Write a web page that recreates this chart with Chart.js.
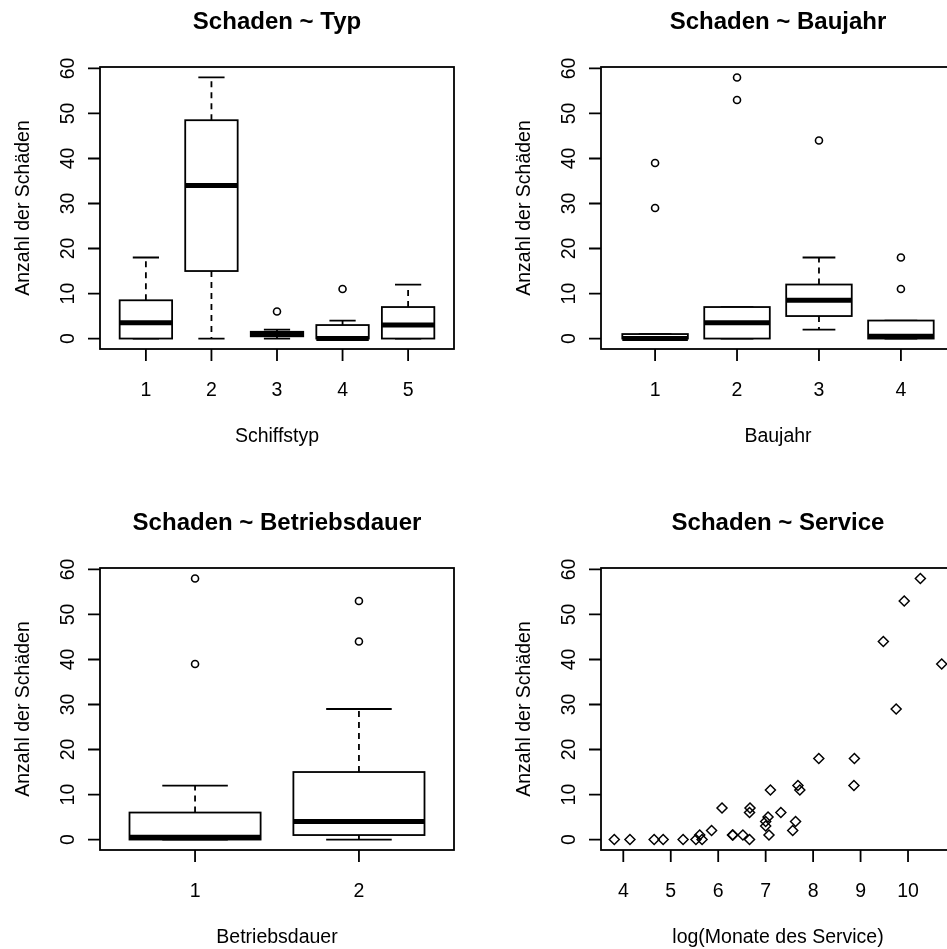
<!DOCTYPE html>
<html lang="de">
<head>
<meta charset="UTF-8">
<title>Schiffsschäden</title>
<script src="https://cdn.jsdelivr.net/npm/chart.js@4"></script>
<style>
  html, body { margin: 0; background: #fff; overflow: hidden; }
  #sheet { position: relative; width: 1002px; height: 1002px; }
  #sheet canvas { position: absolute; }
</style>
</head>
<body>
<div id="sheet">
  <canvas id="typ" width="501" height="500" style="left:0;top:0"></canvas>
  <canvas id="baujahr" width="501" height="500" style="left:501px;top:0"></canvas>
  <canvas id="dauer" width="501" height="500" style="left:0;top:501px"></canvas>
  <canvas id="service" width="501" height="500" style="left:501px;top:501px"></canvas>
</div>
<script>
// Schaden ~ Typ: boxplot statistics per ship type
const typCats = ['1', '2', '3', '4', '5'];
const typLow  = [0, 0, 0, 0, 0];
const typQ1   = [0, 15, 0.5, 0, 0];
const typMed  = [3.5, 34, 1, 0, 3];
const typQ3   = [8.5, 48.5, 1.5, 3, 7];
const typHigh = [18, 58, 2, 4, 12];
const typOut  = [[], [], [6], [11], []];

// Schaden ~ Baujahr
const bauCats = ['1', '2', '3', '4'];
const bauLow  = [0, 0, 2, 0];
const bauQ1   = [0, 0, 5, 0];
const bauMed  = [0, 3.5, 8.5, 0.5];
const bauQ3   = [1, 7, 12, 4];
const bauHigh = [1, 7, 18, 4];
const bauOut  = [[29, 39], [53, 58], [44], [11, 18]];

// Schaden ~ Betriebsdauer
const dauerCats = ['1', '2'];
const dauerLow  = [0, 0];
const dauerQ1   = [0, 1];
const dauerMed  = [0.5, 4];
const dauerQ3   = [6, 15];
const dauerHigh = [12, 29];
const dauerOut  = [[39, 58], [44, 53]];

// Schaden ~ Service: log(Monate des Service) vs. Anzahl
const logService = [4.84, 4.14, 7.00, 7.00, 7.32, 8.12, 7.72,
                    10.71, 9.75, 10.26, 9.92, 8.86, 9.48, 8.87,
                    7.07, 6.31, 6.66, 6.52, 6.66, 7.57, 5.61,
                    5.53, 4.65, 5.66, 5.26, 5.86, 7.10, 7.63,
                    3.81, 6.67, 6.08, 7.05, 7.68, 6.30];
const schaeden   = [0, 0, 3, 4, 6, 18, 11,
                    39, 29, 58, 53, 12, 44, 18,
                    1, 1, 0, 1, 6, 2, 1,
                    0, 0, 0, 0, 2, 11, 4,
                    0, 7, 7, 5, 12, 1];
const serviceTicks = [4, 5, 6, 7, 8, 9, 10];
const serviceRange = [3.53, 10.99];

const yTicks = [0, 10, 20, 30, 40, 50, 60];
const yRange = [-2.32, 60.32];
const yTitle = 'Anzahl der Schäden';

const INK = '#000';
const FONT = '"Liberation Sans", Arial, sans-serif';
const PAD = { left: 100, top: 67, right: 47, bottom: 151 };
const LW = 1.8;

// frame, outward ticks, rotated y labels and titles in the style of base R graphics
function rDecor(title, xLabel, tickText) {
  return {
    id: 'rDecor',
    afterDraw(chart) {
      const { ctx, chartArea: a, scales: { x, y } } = chart;
      const cx = (a.left + a.right) / 2;
      ctx.save();
      ctx.strokeStyle = INK;
      ctx.fillStyle = INK;
      ctx.lineWidth = LW;
      ctx.strokeRect(a.left, a.top, a.right - a.left, a.bottom - a.top);
      ctx.beginPath();
      y.ticks.forEach(t => {
        const py = y.getPixelForValue(t.value);
        ctx.moveTo(a.left - 12, py);
        ctx.lineTo(a.left, py);
      });
      x.ticks.forEach(t => {
        const px = x.getPixelForValue(t.value);
        ctx.moveTo(px, a.bottom);
        ctx.lineTo(px, a.bottom + 12);
      });
      ctx.stroke();

      ctx.font = '19.5px ' + FONT;
      ctx.textAlign = 'center';
      ctx.textBaseline = 'alphabetic';
      x.ticks.forEach(t => ctx.fillText(tickText(t.value), x.getPixelForValue(t.value), a.bottom + 47));
      ctx.fillText(xLabel, cx, a.bottom + 93);
      y.ticks.forEach(t => {
        ctx.save();
        ctx.translate(a.left - 26, y.getPixelForValue(t.value));
        ctx.rotate(-Math.PI / 2);
        ctx.fillText(String(t.value), 0, 0);
        ctx.restore();
      });
      ctx.save();
      ctx.translate(29, (a.top + a.bottom) / 2);
      ctx.rotate(-Math.PI / 2);
      ctx.fillText(yTitle, 0, 0);
      ctx.restore();

      ctx.font = 'bold 24px ' + FONT;
      ctx.fillText(title, cx, 29);
      ctx.restore();
    }
  };
}

// boxes, dashed whiskers, staples and thick medians
function boxes(low, q1, med, q3, high) {
  return {
    id: 'boxes',
    beforeDatasetsDraw(chart) {
      const { ctx, scales: { x, y } } = chart;
      const half = x.getPixelForValue(1.4) - x.getPixelForValue(1);
      ctx.save();
      ctx.strokeStyle = INK;
      ctx.lineCap = 'butt';
      med.forEach((m, i) => {
        const cx = x.getPixelForValue(i + 1);
        const pLow = y.getPixelForValue(low[i]), pQ1 = y.getPixelForValue(q1[i]);
        const pQ3 = y.getPixelForValue(q3[i]), pHigh = y.getPixelForValue(high[i]);
        ctx.lineWidth = LW;
        ctx.setLineDash([6, 5]);
        ctx.beginPath();
        ctx.moveTo(cx, pQ3); ctx.lineTo(cx, pHigh);
        ctx.moveTo(cx, pQ1); ctx.lineTo(cx, pLow);
        ctx.stroke();
        ctx.setLineDash([]);
        ctx.beginPath();
        ctx.moveTo(cx - half / 2, pHigh); ctx.lineTo(cx + half / 2, pHigh);
        ctx.moveTo(cx - half / 2, pLow); ctx.lineTo(cx + half / 2, pLow);
        ctx.stroke();
        ctx.fillStyle = '#fff';
        ctx.fillRect(cx - half, pQ3, 2 * half, pQ1 - pQ3);
        ctx.strokeRect(cx - half, pQ3, 2 * half, pQ1 - pQ3);
        ctx.lineWidth = 5;
        ctx.beginPath();
        const pm = y.getPixelForValue(m);
        ctx.moveTo(cx - half, pm); ctx.lineTo(cx + half, pm);
        ctx.stroke();
      });
      ctx.restore();
    }
  };
}

function baseOptions(xMin, xMax, xTicks) {
  return {
    responsive: false,
    animation: false,
    events: [],
    layout: { padding: PAD },
    plugins: { legend: { display: false }, tooltip: { enabled: false } },
    scales: {
      x: {
        type: 'linear', display: false, min: xMin, max: xMax,
        afterBuildTicks: s => { s.ticks = xTicks.map(v => ({ value: v })); }
      },
      y: {
        type: 'linear', display: false, min: yRange[0], max: yRange[1],
        afterBuildTicks: s => { s.ticks = yTicks.map(v => ({ value: v })); }
      }
    }
  };
}

function boxPanel(id, title, xLabel, cats, low, q1, med, q3, high, out) {
  const n = cats.length;
  const pts = out.flatMap((vals, i) => vals.map(v => ({ x: i + 1, y: v })));
  new Chart(document.getElementById(id), {
    type: 'scatter',
    data: {
      datasets: [{
        data: pts,
        pointStyle: 'circle',
        radius: 3.5,
        borderWidth: 1.6,
        borderColor: INK,
        backgroundColor: 'rgba(0,0,0,0)'
      }]
    },
    options: baseOptions(0.5 - 0.04 * n, n + 0.5 + 0.04 * n, cats.map((c, i) => i + 1)),
    plugins: [boxes(low, q1, med, q3, high), rDecor(title, xLabel, v => cats[v - 1])]
  });
}

boxPanel('typ', 'Schaden ~ Typ', 'Schiffstyp',
  typCats, typLow, typQ1, typMed, typQ3, typHigh, typOut);
boxPanel('baujahr', 'Schaden ~ Baujahr', 'Baujahr',
  bauCats, bauLow, bauQ1, bauMed, bauQ3, bauHigh, bauOut);
boxPanel('dauer', 'Schaden ~ Betriebsdauer', 'Betriebsdauer',
  dauerCats, dauerLow, dauerQ1, dauerMed, dauerQ3, dauerHigh, dauerOut);

new Chart(document.getElementById('service'), {
  type: 'scatter',
  data: {
    datasets: [{
      data: logService.map((v, i) => ({ x: v, y: schaeden[i] })),
      pointStyle: 'rectRot',
      radius: 5,
      borderWidth: 1.5,
      borderColor: INK,
      backgroundColor: 'rgba(0,0,0,0)'
    }]
  },
  options: baseOptions(serviceRange[0], serviceRange[1], serviceTicks),
  plugins: [rDecor('Schaden ~ Service', 'log(Monate des Service)', v => String(v))]
});
</script>
</body>
</html>
